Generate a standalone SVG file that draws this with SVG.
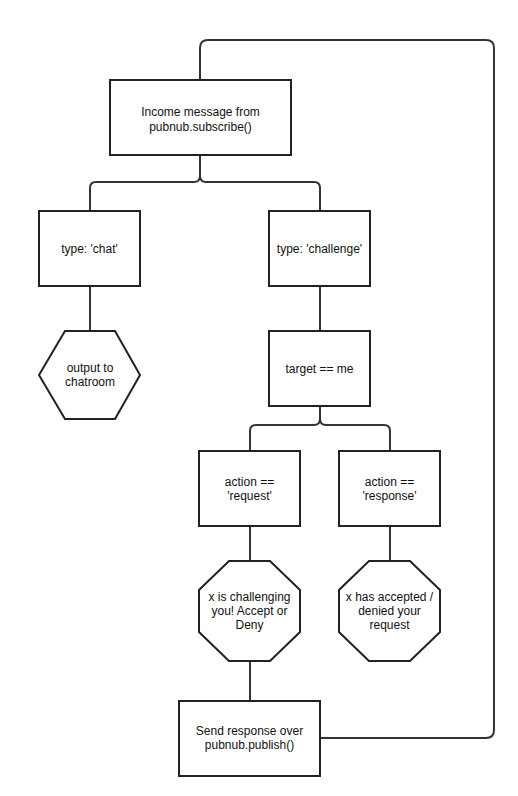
<svg xmlns="http://www.w3.org/2000/svg" width="518" height="796" viewBox="0 0 518 796">
<style>
.n{fill:#fff;stroke:#222;stroke-width:2}
.c{fill:none;stroke:#333;stroke-width:2}
text{font-family:"Liberation Sans",Arial,sans-serif;font-size:12px;fill:#111;text-anchor:middle}
</style>
<rect width="518" height="796" fill="#fff"/>
<g id="connectors">
<path class="c" d="M200,155 V176 Q200,182 194,182 H96 Q90,182 90,188 V211"/>
<path class="c" d="M200,155 V176 Q200,182 206,182 H314 Q320,182 320,188 V211"/>
<path class="c" d="M90,286 V331"/>
<path class="c" d="M320,286 V331"/>
<path class="c" d="M320,406 V419 Q320,425 314,425 H256 Q250,425 250,431 V451"/>
<path class="c" d="M320,406 V419 Q320,425 326,425 H384 Q390,425 390,431 V451"/>
<path class="c" d="M250,526 V561"/>
<path class="c" d="M390,526 V561"/>
<path class="c" d="M250,661 V701"/>
<path class="c" d="M320,738 H486 Q494,738 494,730 V48 Q494,40 486,40 H208 Q200,40 200,48 V80"/>
</g>
<g id="income">
<rect class="n" x="110" y="80" width="181" height="75"/>
<text x="200.5" y="116">Income message from</text>
<text x="200.5" y="131">pubnub.subscribe()</text>
</g>
<g id="chat">
<rect class="n" x="39" y="211" width="101" height="75"/>
<text x="89.5" y="253">type: 'chat'</text>
</g>
<g id="output">
<polygon class="n" points="65,331 115,331 140,375 115,419 65,419 39,375"/>
<text x="90" y="372">output to</text>
<text x="90" y="386">chatroom</text>
</g>
<g id="challenge">
<rect class="n" x="269" y="211" width="101" height="75"/>
<text x="319.5" y="253">type: 'challenge'</text>
</g>
<g id="target">
<rect class="n" x="269" y="331" width="101" height="75"/>
<text x="319.5" y="373">target == me</text>
</g>
<g id="request">
<rect class="n" x="199" y="451" width="101" height="75"/>
<text x="249.5" y="486">action ==</text>
<text x="249.5" y="500">'request'</text>
</g>
<g id="response">
<rect class="n" x="339" y="451" width="101" height="75"/>
<text x="389.5" y="486">action ==</text>
<text x="389.5" y="500">'response'</text>
</g>
<g id="challenging">
<polygon class="n" points="229,561 270,561 300,590 300,632 270,661 229,661 199,632 199,590"/>
<text x="249.5" y="601">x is challenging</text>
<text x="249.5" y="615">you! Accept or</text>
<text x="249.5" y="629">Deny</text>
</g>
<g id="accepted">
<polygon class="n" points="369,561 410,561 440,590 440,632 410,661 369,661 339,632 339,590"/>
<text x="389.5" y="601">x has accepted /</text>
<text x="389.5" y="615">denied your</text>
<text x="389.5" y="629">request</text>
</g>
<g id="send">
<rect class="n" x="179" y="701" width="141" height="75"/>
<text x="249.5" y="735">Send response over</text>
<text x="249.5" y="749">pubnub.publish()</text>
</g>
</svg>
